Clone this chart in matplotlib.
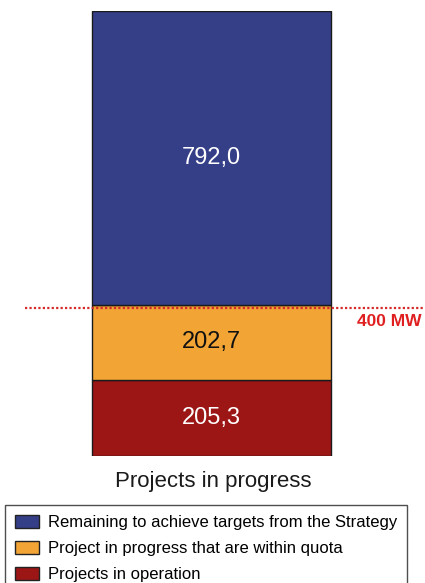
import matplotlib
matplotlib.use("Agg")
import matplotlib.pyplot as plt
from matplotlib.patches import Patch

plt.rcParams['font.family'] = ['Liberation Sans', 'DejaVu Sans']

# data
segments = ["Projects in operation",
            "Project in progress that are within quota",
            "Remaining to achieve targets from the Strategy"]
values = [205.3, 202.7, 792.0]
value_labels = ["205,3", "202,7", "792,0"]
colors = ["#9c1616", "#f2a535", "#353f88"]
label_colors = ["white", "#111111", "white"]
threshold = 400
threshold_label = "400 MW"
title = "Projects in progress"

fig = plt.figure(figsize=(4.25, 5.83), dpi=100)
ax = fig.add_axes([0, 127 / 583, 1, 445 / 583])
ax.set_xlim(0, 425)
ax.set_ylim(0, sum(values))
ax.axis("off")

bottom = 0
for v, c, lab, lc in zip(values, colors, value_labels, label_colors):
    ax.bar(211.5, v, width=239, bottom=bottom, color=c, edgecolor="#1a1a1a", linewidth=1.0)
    ax.text(211.5, bottom + v / 2, lab, ha="center", va="center", fontsize=17, color=lc)
    bottom += v

ax.axhline(threshold, xmin=25 / 425, xmax=1, color="#d42a2a", linestyle=(0, (1, 1)), linewidth=1.6, zorder=5)
ax.text(357, threshold - 36, threshold_label, ha="left", va="center", fontsize=12.5,
        fontweight="bold", color="#e02020", clip_on=False)

fig.text(213 / 425, 1 - 482 / 583, title, ha="center", va="center", fontsize=16, color="#1a1a1a")

handles = [Patch(facecolor=c, edgecolor="#222222", label=s) for c, s in zip(colors[::-1], segments[::-1])]
leg = fig.legend(handles=handles, loc="upper left", bbox_to_anchor=(5 / 425, 1 - 505 / 583),
                 borderaxespad=0, frameon=True, fancybox=False, fontsize=12,
                 handlelength=1.45, handleheight=0.85, handletextpad=0.5, labelspacing=0.62,
                 borderpad=0.6)
leg.get_frame().set_edgecolor("#222222")
leg.get_frame().set_linewidth(1.0)

fig.savefig("out.png", dpi=100)
